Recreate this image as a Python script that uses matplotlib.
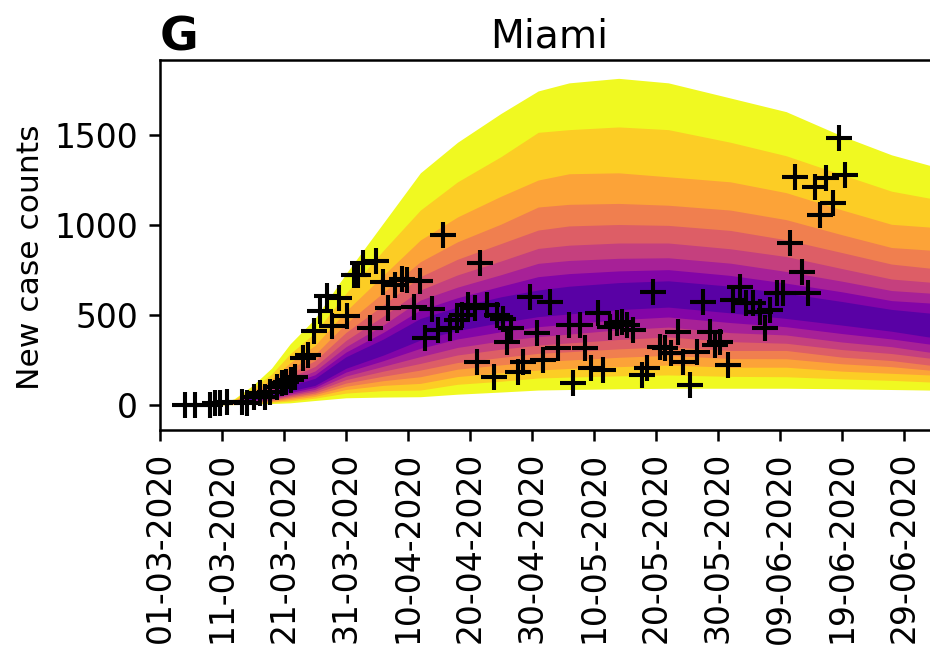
import numpy as np
import pandas as pd
import matplotlib
matplotlib.use('Agg')
import matplotlib.pyplot as plt

start = pd.Timestamp('2020-03-01')

# observed daily new cases (day offset from 01-03-2020, count)
case_day = [4.0, 5.6, 8.1, 8.9, 9.7, 10.8, 13.2, 14.0, 15.1, 16.1, 16.9, 17.7, 18.8, 19.6,
            20.4, 21.2, 21.8, 23.1, 23.9, 24.8, 25.8, 26.9, 27.8, 28.8, 30.1, 31.3, 32.0,
            32.8, 33.9, 34.8, 36.0, 36.8, 37.9, 39.0, 39.8, 40.9, 41.9, 42.7, 43.8, 44.9,
            45.7, 46.7, 47.9, 48.7, 49.7, 50.8, 51.2, 51.6, 52.7, 53.8, 54.3, 55.4, 56.0,
            56.7, 57.8, 58.6, 59.7, 60.8, 61.8, 62.9, 64.2, 65.9, 66.7, 67.7, 68.5, 69.6,
            70.7, 71.5, 72.6, 73.7, 74.5, 75.3, 76.3, 77.7, 78.5, 79.6, 80.6, 81.5, 82.5,
            83.6, 84.4, 85.5, 86.6, 87.6, 88.7, 89.5, 90.3, 91.7, 92.5, 93.5, 94.6, 95.7,
            96.8, 97.6, 98.4, 99.5, 100.5, 101.6, 102.4, 103.5, 104.6, 105.6, 106.5, 107.5,
            108.6, 109.6, 110.5]
case_count = [0, 0, 0, 9, 13, 19, 19, 9, 46, 65, 46, 74, 102, 120,
              130, 139, 157, 259, 278, 411, 522, 605, 439, 596, 494, 720, 720,
              791, 430, 800, 685, 537, 667, 698, 694, 546, 689, 370, 531, 417,
              944, 426, 472, 500, 556, 537, 241, 787, 556, 157, 500, 476, 352,
              426, 185, 241, 598, 398, 250, 574, 315, 444, 120, 444, 315, 204,
              509, 194, 435, 454, 463, 444, 417, 167, 204, 630, 324, 315, 287,
              407, 241, 111, 296, 574, 407, 333, 352, 222, 583, 657, 565, 565,
              519, 426, 528, 620, 620, 898, 1269, 741, 620, 1213, 1056, 1259,
              1120, 1482, 1278]

# model prediction bands: day offsets where the band edges were read
band_day = [9, 12, 15, 18, 21, 25, 30, 36, 42, 48, 55, 61, 66, 74, 82, 92, 101, 110, 118, 124, 127]

# upper edges, outermost band first
upper_edges = [
    [3, 35, 110, 205, 340, 480, 730, 1010, 1290, 1460, 1620, 1745, 1790, 1815, 1790, 1706, 1630, 1495, 1390, 1333, 1310],
    [2.5, 31, 94, 172, 285, 402, 621, 858, 1083, 1240, 1380, 1515, 1530, 1545, 1530, 1460, 1385, 1280, 1188, 1150, 1130],
    [2, 27, 79, 142, 235, 331, 522, 720, 917, 1045, 1160, 1250, 1285, 1290, 1268, 1240, 1180, 1084, 1004, 989, 972],
    [1.8, 24, 68, 121, 200, 281, 453, 624, 796, 907, 1005, 1100, 1115, 1120, 1110, 1083, 1030, 946, 875, 861, 847],
    [1.6, 22, 61, 106, 175, 246, 403, 555, 713, 810, 897, 972, 995, 1003, 998, 970, 918, 847, 783, 761, 749],
    [1.4, 20, 54, 93, 153, 214, 359, 493, 639, 723, 800, 870, 888, 900, 900, 868, 825, 758, 700, 683, 672],
    [1.3, 19, 49, 82, 135, 189, 324, 444, 583, 655, 724, 787, 803, 815, 818, 788, 742, 688, 636, 622, 612],
    [1.2, 17, 44, 73, 120, 168, 294, 403, 528, 596, 660, 713, 730, 745, 752, 720, 677, 629, 580, 567, 558],
    [1.1, 16, 40, 65, 107, 148, 268, 366, 481, 544, 601, 639, 660, 680, 690, 660, 621, 575, 531, 511, 503],
]
# lower edges, outermost band first
lower_edges = [
    [0, 2, 5, 8, 12, 25, 40, 44, 46, 60, 72, 83, 86, 90, 93, 93, 93, 90, 86, 83, 82],
    [0.2, 3.7, 9, 14, 22, 38, 66, 80, 83, 115, 132, 150, 155, 162, 167, 159, 157, 145, 137, 128, 126],
    [0.3, 5, 12, 19, 30, 48, 86, 109, 120, 158, 179, 194, 203, 213, 222, 210, 210, 188, 176, 167, 164],
    [0.4, 6.3, 15, 23.5, 38, 58, 104, 135, 157, 199, 223, 241, 250, 265, 276, 258, 257, 229, 213, 194, 191],
    [0.5, 7.5, 17.6, 27.7, 45, 67, 122, 160, 194, 236, 264, 287, 296, 312, 323, 303, 303, 266, 247, 222, 219],
    [0.6, 8.8, 20.6, 32.4, 53, 77, 141, 188, 231, 278, 310, 333, 345, 364, 378, 352, 343, 308, 286, 261, 257],
    [0.7, 10.1, 23.6, 37.1, 60, 87, 161, 215, 269, 320, 356, 380, 394, 418, 433, 402, 389, 350, 324, 294, 290],
    [0.8, 11.5, 27, 42.4, 69, 98, 183, 246, 315, 367, 407, 435, 450, 474, 489, 458, 435, 397, 367, 339, 334],
    [0.9, 13, 30.3, 47.6, 78, 109, 204, 277, 361, 414, 458, 491, 506, 530, 544, 512, 481, 444, 410, 378, 372],
]

dpi = 226
fig = plt.figure(figsize=(931 / dpi, 647 / dpi), dpi=dpi)
ax = fig.add_axes([160 / 931, 217 / 647, 778 / 931, 370 / 647])

band_dates = start + pd.to_timedelta(band_day, unit='D')
shades = np.linspace(1.0, 0.16, len(upper_edges))
for k in range(len(upper_edges)):
    ax.fill_between(band_dates, lower_edges[k], upper_edges[k],
                    color=plt.cm.plasma(shades[k]), linewidth=0)

case_dates = start + pd.to_timedelta(case_day, unit='D')
ax.plot(case_dates, case_count, 'k+', ms=8, mew=1.3, zorder=5)

ticks = pd.date_range('2020-03-01', periods=13, freq='10D')
ax.set_xticks(ticks)
ax.set_xticklabels([t.strftime('%d-%m-%Y') for t in ticks], rotation=90)
ax.set_xlim(start, start + pd.Timedelta(days=125.5))
ax.set_yticks([0, 500, 1000, 1500])
ax.set_ylim(-139, 1917)
ax.tick_params(labelsize=10.5)
ax.set_ylabel('New case counts', fontsize=10)
ax.yaxis.set_label_coords(-0.148, 0.468)
ax.set_title('Miami', fontsize=12.5, pad=4)
ax.text(0.0, 1.027, 'G', transform=ax.transAxes, fontsize=15,
        fontweight='bold', ha='left', va='baseline')

fig.savefig('out.png', dpi=dpi)
